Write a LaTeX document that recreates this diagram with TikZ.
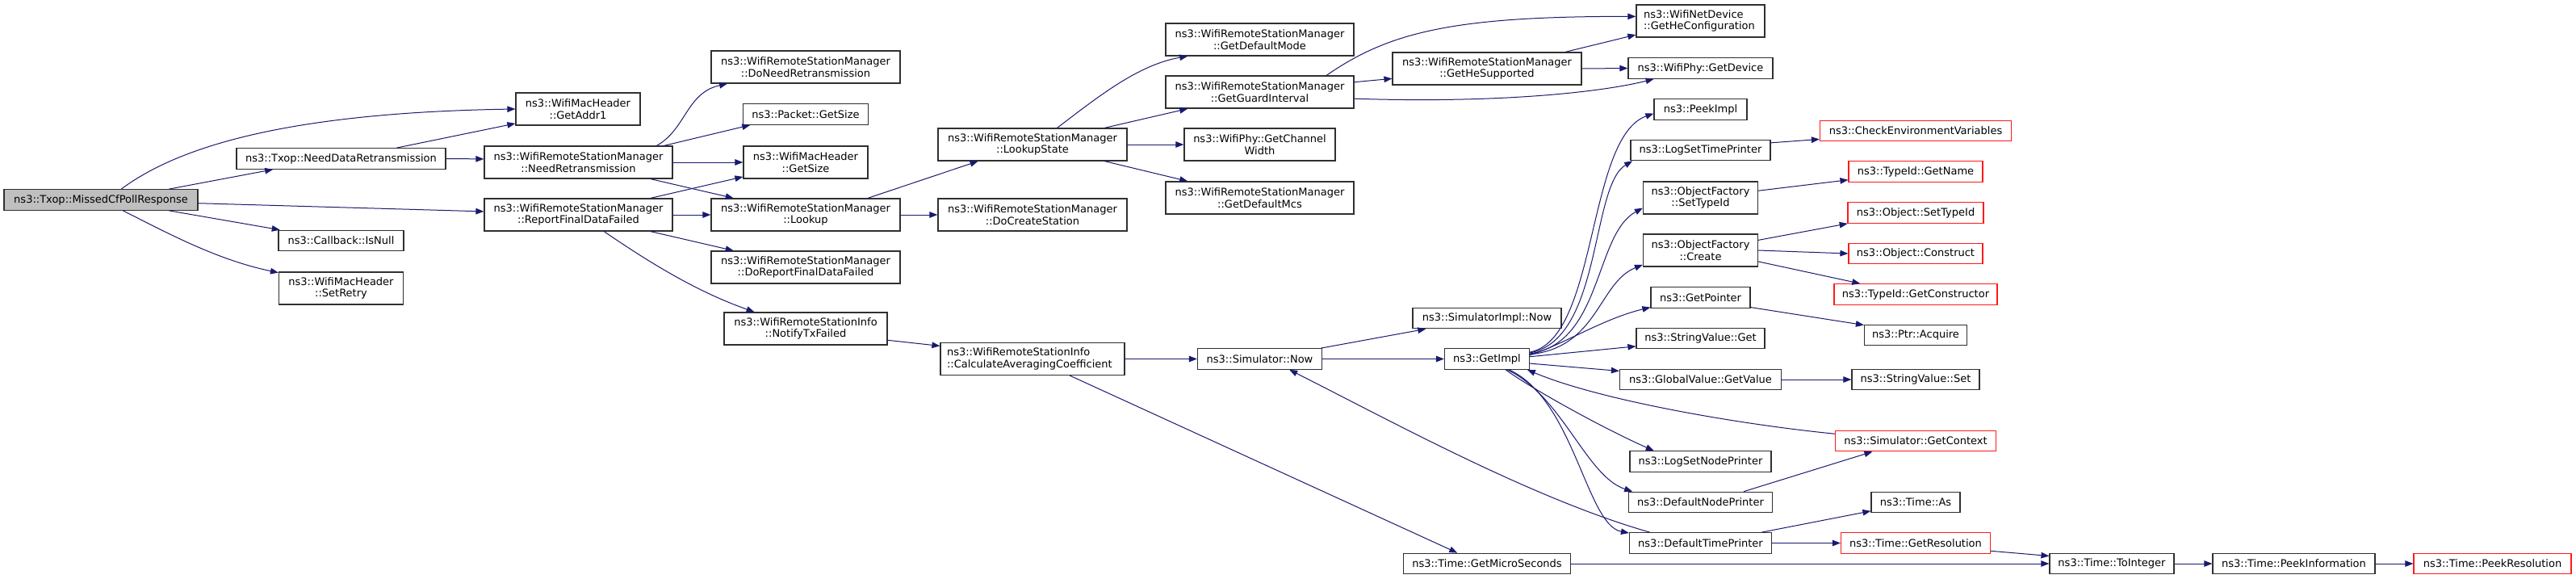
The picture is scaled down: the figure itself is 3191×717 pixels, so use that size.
\documentclass[tikz,border=0pt]{standalone}
\usepackage{fontspec}
\setmainfont{DejaVu Sans}
\usetikzlibrary{arrows.meta}
\definecolor{callblue}{HTML}{191970}
\definecolor{rootgrey}{HTML}{BFBFBF}
\definecolor{framegrey}{HTML}{303030}
\definecolor{truncred}{HTML}{FF1A1A}
\tikzset{
  fn/.style={rectangle, draw=framegrey, fill=white, line width=1.2pt, align=center,
             inner xsep=2pt, inner ysep=0pt, minimum height=25.5pt,
             font=\fontsize{13}{14.5}\selectfont},
  fntwo/.style={fn, minimum height=40pt},
  fnroot/.style={fn, fill=rootgrey},
  fntrunc/.style={fn, draw=truncred},
  call/.style={-{Triangle[length=10pt,width=7.5pt]}, draw=callblue, line width=1pt},
}
\begin{document}
\begin{tikzpicture}[x=1pt, y=-1pt]
  \useasboundingbox (0,0) rectangle (3191,717);
  % caller and first calls
  \node[fnroot, minimum width=240pt] (missed) at (125,247.5) {ns3::Txop::MissedCfPollResponse};
  \node[fn, minimum width=259pt] (ndr) at (422.5,196.5) {ns3::Txop::NeedDataRetransmission};
  \node[fn, minimum width=155pt] (isnull) at (422.5,298) {ns3::Callback::IsNull};
  \node[fntwo, minimum width=154pt] (setretry) at (422.5,357) {ns3::WifiMacHeader\\::SetRetry};
  \node[fntwo, minimum width=154pt] (getaddr) at (716,135) {ns3::WifiMacHeader\\::GetAddr1};
  \node[fntwo, minimum width=233pt] (nr) at (716.5,201) {ns3::WifiRemoteStationManager\\::NeedRetransmission};
  \node[fntwo, minimum width=233pt] (rfdf) at (716.5,266) {ns3::WifiRemoteStationManager\\::ReportFinalDataFailed};
  % station manager
  \node[fntwo, minimum width=234pt] (dnr) at (998,83) {ns3::WifiRemoteStationManager\\::DoNeedRetransmission};
  \node[fn, minimum width=155pt] (pktgs) at (998,141.5) {ns3::Packet::GetSize};
  \node[fntwo, minimum width=154pt] (wgs) at (998,201) {ns3::WifiMacHeader\\::GetSize};
  \node[fntwo, minimum width=234pt] (lookup) at (998,266) {ns3::WifiRemoteStationManager\\::Lookup};
  \node[fntwo, minimum width=234pt] (drfdf) at (998,331) {ns3::WifiRemoteStationManager\\::DoReportFinalDataFailed};
  \node[fntwo, minimum width=202pt] (ntf) at (998,407) {ns3::WifiRemoteStationInfo\\::NotifyTxFailed};
  \node[fntwo, minimum width=234pt] (ls) at (1279,179) {ns3::WifiRemoteStationManager\\::LookupState};
  \node[fntwo, minimum width=234pt] (dcs) at (1279,266) {ns3::WifiRemoteStationManager\\::DoCreateStation};
  \node[fntwo, minimum width=228pt, align=left, text width=212pt] (cac) at (1279,444.5) {ns3::WifiRemoteStationInfo\\::CalculateAveragingCoefficient};
  \node[fntwo, minimum width=233pt] (gdm) at (1560.5,49) {ns3::WifiRemoteStationManager\\::GetDefaultMode};
  \node[fntwo, minimum width=233pt] (ggi) at (1560.5,114) {ns3::WifiRemoteStationManager\\::GetGuardInterval};
  \node[fntwo, minimum width=187pt] (gcw) at (1560.5,179) {ns3::WifiPhy::GetChannel\\Width};
  \node[fntwo, minimum width=233pt] (gdmcs) at (1560.5,245) {ns3::WifiRemoteStationManager\\::GetDefaultMcs};
  \node[fn, minimum width=154pt] (simnow) at (1560.5,444.5) {ns3::Simulator::Now};
  \node[fntwo, minimum width=234pt] (ghs) at (1842,85) {ns3::WifiRemoteStationManager\\::GetHeSupported};
  \node[fn, minimum width=184pt] (simimpl) at (1842,394) {ns3::SimulatorImpl::Now};
  \node[fn, minimum width=105pt] (getimpl) at (1842,444.5) {ns3::GetImpl};
  \node[fn, minimum width=207pt] (tgms) at (1842,698) {ns3::Time::GetMicroSeconds};
  % simulator internals
  \node[fntwo, minimum width=159pt, align=left, text width=141pt] (ghc) at (2106.5,26) {ns3::WifiNetDevice\\::GetHeConfiguration};
  \node[fn, minimum width=179pt] (getdev) at (2106.5,84.5) {ns3::WifiPhy::GetDevice};
  \node[fn, minimum width=115pt] (peek) at (2106.5,135.5) {ns3::PeekImpl};
  \node[fn, minimum width=173pt] (lstp) at (2106.5,186) {ns3::LogSetTimePrinter};
  \node[fntwo, minimum width=142pt] (ofsti) at (2106.5,245) {ns3::ObjectFactory\\::SetTypeId};
  \node[fntwo, minimum width=142pt] (ofc) at (2106.5,310) {ns3::ObjectFactory\\::Create};
  \node[fn, minimum width=123pt] (getptr) at (2106.5,368.5) {ns3::GetPointer};
  \node[fn, minimum width=159pt] (svget) at (2106.5,419) {ns3::StringValue::Get};
  \node[fn, minimum width=200pt] (gvgv) at (2106.5,470) {ns3::GlobalValue::GetValue};
  \node[fn, minimum width=175pt] (lsnp) at (2106.5,571.5) {ns3::LogSetNodePrinter};
  \node[fn, minimum width=178pt] (dnp) at (2106.5,622) {ns3::DefaultNodePrinter};
  \node[fn, minimum width=176pt] (dtp) at (2106.5,672.5) {ns3::DefaultTimePrinter};
  \node[fntrunc, minimum width=237pt] (cev) at (2373,162) {ns3::CheckEnvironmentVariables};
  \node[fntrunc, minimum width=166pt] (tign) at (2373,212.5) {ns3::TypeId::GetName};
  \node[fntrunc, minimum width=168pt] (osti) at (2373,263.5) {ns3::Object::SetTypeId};
  \node[fntrunc, minimum width=166pt] (oc) at (2373,314) {ns3::Object::Construct};
  \node[fntrunc, minimum width=202pt] (tigc) at (2373,364.5) {ns3::TypeId::GetConstructor};
  \node[fn, minimum width=127pt] (ptracq) at (2373,415) {ns3::Ptr::Acquire};
  \node[fn, minimum width=158pt] (svset) at (2373,470) {ns3::StringValue::Set};
  \node[fntrunc, minimum width=199pt] (sgc) at (2373,546) {ns3::Simulator::GetContext};
  \node[fn, minimum width=110pt] (tas) at (2373,622) {ns3::Time::As};
  \node[fntrunc, minimum width=185pt] (tgr) at (2373,672.5) {ns3::Time::GetResolution};
  \node[fn, minimum width=154pt] (tti) at (2616,698) {ns3::Time::ToInteger};
  \node[fn, minimum width=201pt] (tpi) at (2841.5,698) {ns3::Time::PeekInformation};
  \node[fntrunc, minimum width=195pt] (tpr) at (3087.5,698) {ns3::Time::PeekResolution};

  % calls from the Txop
  \draw[call] (missed.28) .. controls (210,190) and (330,140) .. (getaddr.west);
  \draw[call] (missed.9) -- (ndr.189);
  \draw[call] (missed.-2) -- (rfdf.178);
  \draw[call] (missed.-9) -- (isnull.170);
  \draw[call] (missed.-26) .. controls (210,290) and (270,322) .. (setretry.166);
  \draw[call] (ndr.11) -- (getaddr.193);
  \draw[call] (ndr.east) -- (nr.178);
  % station manager calls
  \draw[call] (nr.12) .. controls (850,160) and (850,115) .. (dnr.192);
  \draw[call] (nr.11) -- (pktgs.191);
  \draw[call] (nr.east) -- (wgs.west);
  \draw[call] (nr.-13) -- (lookup.167);
  \draw[call] (rfdf.13) -- (wgs.193);
  \draw[call] (rfdf.east) -- (lookup.west);
  \draw[call] (rfdf.-13) -- (drfdf.167);
  \draw[call] (rfdf.-33) .. controls (800,322) and (860,360) .. (ntf.162);
  \draw[call] (lookup.15) -- (ls.197);
  \draw[call] (lookup.east) -- (dcs.west);
  \draw[call] (ls.34) .. controls (1360,120) and (1410,80) .. (gdm.193);
  \draw[call] (ls.13) -- (ggi.193);
  \draw[call] (ls.east) -- (gcw.west);
  \draw[call] (ls.-13) -- (gdmcs.167);
  \draw[call] (ggi.14) .. controls (1720,40) and (1800,20) .. (ghc.176);
  \draw[call] (ggi.6) -- (ghs.186);
  \draw[call] (ggi.-4) .. controls (1850,128) and (1980,115) .. (getdev.193);
  \draw[call] (ghs.12) -- (ghc.192);
  \draw[call] (ghs.east) -- (getdev.west);
  \draw[call] (ntf.-8) -- (cac.172);
  \draw[call] (cac.east) -- (simnow.west);
  \draw[call] (cac.-24) -- (tgms.160);
  % simulator
  \draw[call] (simnow.10) -- (simimpl.190);
  \draw[call] (simnow.east) -- (getimpl.west);
  \draw[call] (getimpl.9) .. controls (1980,420) and (1965,170) .. (peek.185);
  \draw[call] (getimpl.8) .. controls (1985,420) and (1970,230) .. (lstp.189);
  \draw[call] (getimpl.7) .. controls (1985,425) and (1975,290) .. (ofsti.190);
  \draw[call] (getimpl.6) .. controls (1980,430) and (1980,350) .. (ofc.194);
  \draw[call] (getimpl.5) .. controls (1940,425) and (1985,395) .. (getptr.191);
  \draw[call] (getimpl.3) -- (svget.187);
  \draw[call] (getimpl.-6) -- (gvgv.174);
  \draw[call] (getimpl.-30) .. controls (1895,480) and (1985,530) .. (lsnp.167);
  \draw[call] (getimpl.-28) .. controls (1935,490) and (1965,590) .. (dnp.171);
  \draw[call] (getimpl.-26) .. controls (1950,495) and (1965,650) .. (dtp.172);
  \draw[call] (sgc.175) .. controls (2150,525) and (1980,495) .. (getimpl.-15);
  \draw[call] (dtp.168) .. controls (1900,618) and (1730,525) .. (simnow.-20);
  \draw[call] (lstp.6) -- (cev.185);
  \draw[call] (ofsti.7) -- (tign.187);
  \draw[call] (ofc.10) -- (osti.189);
  \draw[call] (ofc.east) -- (oc.west);
  \draw[call] (ofc.-11) -- (tigc.169);
  \draw[call] (getptr.-11) -- (ptracq.169);
  \draw[call] (gvgv.east) -- (svset.west);
  \draw[call] (dnp.14) -- (sgc.194);
  \draw[call] (dtp.10) -- (tas.191);
  \draw[call] (dtp.east) -- (tgr.west);
  % time
  \draw[call] (tgr.-6) -- (tti.173);
  \draw[call] (tgms.east) -- (tti.west);
  \draw[call] (tti.east) -- (tpi.west);
  \draw[call] (tpi.east) -- (tpr.west);
\end{tikzpicture}
\end{document}
